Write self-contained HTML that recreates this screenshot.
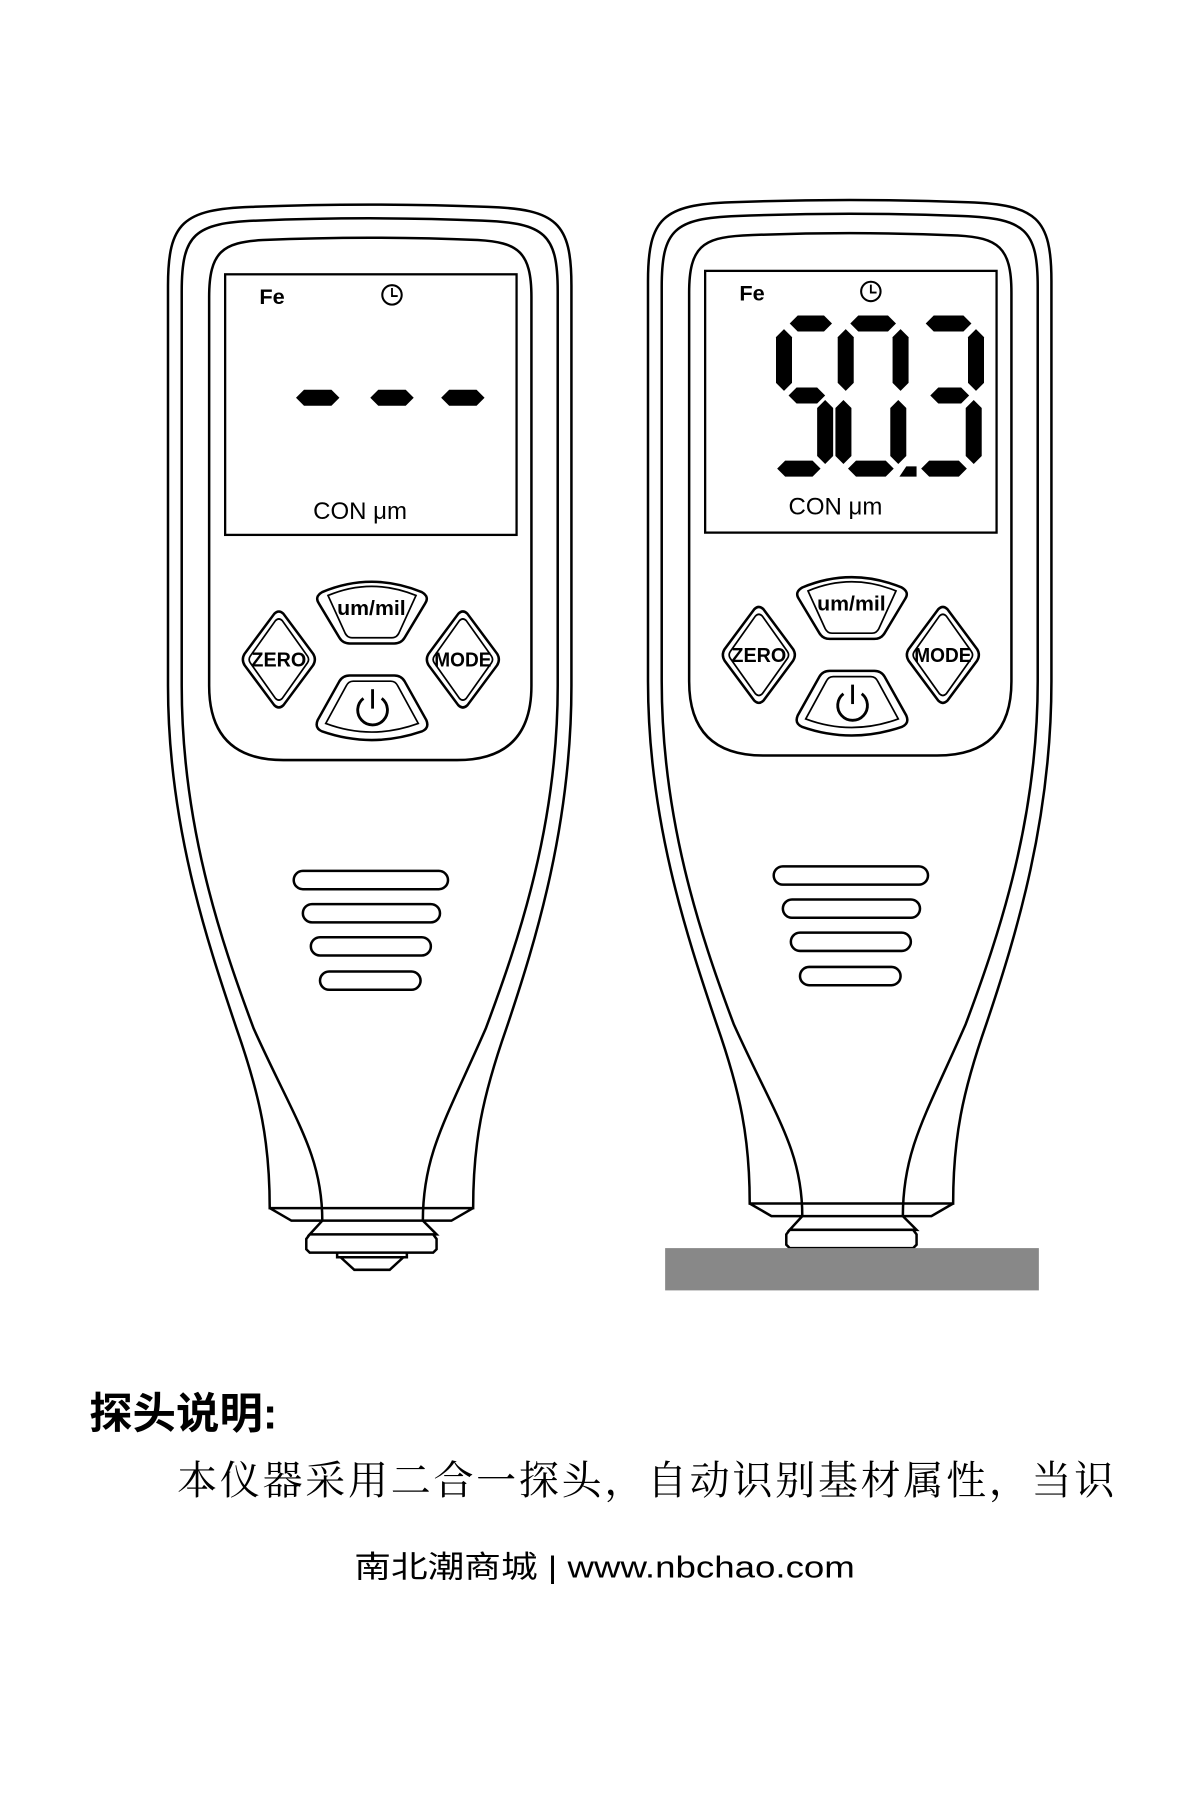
<!DOCTYPE html>
<html><head><meta charset="utf-8"><style>
html,body{margin:0;padding:0;background:#fff;}
svg{display:block;}
</style></head><body>
<svg width="1200" height="1799" viewBox="0 0 1050 1574" preserveAspectRatio="none" xmlns="http://www.w3.org/2000/svg">
<defs>
<g id="dev" fill="none" stroke="#000" stroke-width="2.2">
  <path d="M147 250 C147 195 160 183 220 181 Q323 177 427 181 C487 183 500 195 500 250 L500 600 C500 720 470 820 443 900 C422 960 414 1000 414 1057 L236 1057 C236 1000 228 960 207 900 C180 820 147 720 147 600 Z"/>
  <path d="M159 255 C159 205 170 195 225 193 Q323 189 422 193 C477 195 488 205 488 255 L488 600 C488 720 455 820 425 900 C390 980 370 1010 370 1068 M159 255 L159 600 C159 720 192 820 222 900 C258 980 282 1010 282 1068"/>
  <path d="M183 260 C183 220 195 212 230 210 Q323 206 418 210 C453 212 465 220 465 260 L465 600 Q465 665 400 665 L248 665 Q183 665 183 600 Z"/>
  <path d="M236 1057 L255 1068 L395 1068 L414 1057"/>
  <path d="M282 1068 L271 1080 L382 1080 L370 1068"/>
  <path d="M271 1080 L268 1084 L268 1093 L271 1096 L379 1096 L382 1093 L382 1084 L379 1080"/>
  <path d="M282 518 Q325 500 369 518 Q376 522 372 528 L354 558 Q351 563 345 563 L306 563 Q300 563 297 558 L279 528 Q275 522 282 518 Z"/>
  <path d="M287 521 Q325 505 364 521 L349 554 Q347 558 343 558 L308 558 Q304 558 302 554 Z" stroke-width="1.5"/>
  <path d="M306 591 L345 591 Q351 591 354 596 L373 630 Q376 637 369 640 Q325 655 282 640 Q275 637 278 630 L297 596 Q300 591 306 591 Z"/>
  <path d="M309 596 L342 596 Q346 596 348 600 L366 633 Q325 648 285 633 L303 600 Q305 596 309 596 Z" stroke-width="1.5"/>
  <path d="M240 537 Q244 533 248 537 L274 572 Q277 577 274 582 L248 617 Q244 621 240 617 L214 582 Q211 577 214 572 Z"/>
  <path d="M241 543 Q244 540 247 543 L269 574 Q271 577 269 580 L247 611 Q244 614 241 611 L219 580 Q217 577 219 574 Z" stroke-width="1.5"/>
  <path d="M401 537 Q405 533 409 537 L435 572 Q438 577 435 582 L409 617 Q405 621 401 617 L375 582 Q372 577 375 572 Z"/>
  <path d="M402 543 Q405 540 408 543 L430 574 Q432 577 430 580 L408 611 Q405 614 402 611 L380 580 Q378 577 380 574 Z" stroke-width="1.5"/>
  <path d="M318 611 A13 13 0 1 0 334 611" stroke-width="2.5"/>
  <line x1="326" y1="603" x2="326" y2="620" stroke-width="2.5"/>
  <rect x="257" y="762" width="135" height="16" rx="8"/>
  <rect x="265" y="791" width="120" height="16" rx="8"/>
  <rect x="272" y="820" width="105" height="16" rx="8"/>
  <rect x="280" y="850" width="88" height="16" rx="8"/>
</g>
<g id="lbl" font-family="Liberation Sans Narrow, Liberation Sans, sans-serif" font-weight="bold" font-size="18">
<text x="325" y="538" text-anchor="middle" textLength="60" lengthAdjust="spacingAndGlyphs">um/mil</text>
<text x="244" y="583" text-anchor="middle" textLength="48" lengthAdjust="spacingAndGlyphs">ZERO</text>
<text x="405" y="583" text-anchor="middle" textLength="50" lengthAdjust="spacingAndGlyphs">MODE</text>
</g>
</defs>
<g font-family="Liberation Sans, sans-serif" font-weight="bold">
<use href="#dev"/>
<use href="#lbl"/>
<path d="M295 1096 L295 1100 L356 1100 L356 1096 M298 1100 L310 1111 L341 1111 L353 1100" fill="none" stroke="#000" stroke-width="2.2"/>
<rect x="197" y="240" width="255" height="228" fill="none" stroke="#000" stroke-width="2"/>
<text x="227" y="266" font-size="19">Fe</text>
<circle cx="343" cy="258" r="8.5" fill="none" stroke="#000" stroke-width="1.8"/>
<path d="M343 252 L343 259 L348 259" fill="none" stroke="#000" stroke-width="1.6"/>
<g fill="#000">
<polygon points="259,348 266,341 290,341 297,348 290,355 266,355"/>
<polygon points="324,348 331,341 355,341 362,348 355,355 331,355"/>
<polygon points="386,348 393,341 417,341 424,348 417,355 393,355"/>
</g>
<text x="274" y="454" font-size="21" font-weight="normal">CON  μm</text>

<g transform="translate(420,-4)">
<use href="#dev"/>
<use href="#lbl"/>
</g>
<rect x="617" y="237" width="255" height="229" fill="none" stroke="#000" stroke-width="2"/>
<text x="647" y="263" font-size="19">Fe</text>
<circle cx="762" cy="255" r="8.5" fill="none" stroke="#000" stroke-width="1.8"/>
<path d="M762 249 L762 256 L767 256" fill="none" stroke="#000" stroke-width="1.6"/>
<g fill="#000">
  <!-- 5 -->
  <polygon points="691,283 698,276 721,276 728,283 721,290 698,290"/>
  <polygon points="686,288 693,295 693,335 686,342 679,335 679,295"/>
  <polygon points="690,346 697,339 715,339 722,346 715,353 697,353"/>
  <polygon points="722,350 729,357 729,399 722,406 715,399 715,357"/>
  <polygon points="680,410 687,403 711,403 718,410 711,417 687,417"/>
  <!-- 0 -->
  <polygon points="744,283 751,276 777,276 784,283 777,290 751,290"/>
  <polygon points="740,288 747,295 747,335 740,342 733,335 733,295"/>
  <polygon points="788,288 795,295 795,335 788,342 781,335 781,295"/>
  <polygon points="738,350 745,357 745,399 738,406 731,399 731,357"/>
  <polygon points="786,350 793,357 793,399 786,406 779,399 779,357"/>
  <polygon points="742,410 749,403 775,403 782,410 775,417 749,417"/>
  <!-- 3 -->
  <polygon points="810,283 817,276 843,276 850,283 843,290 817,290"/>
  <polygon points="854,288 861,295 861,335 854,342 847,335 847,295"/>
  <polygon points="814,346 821,339 841,339 848,346 841,353 821,353"/>
  <polygon points="852,350 859,357 859,399 852,406 845,399 845,357"/>
  <polygon points="806,410 813,403 839,403 846,410 839,417 813,417"/>
  <polygon points="787,417 793,408 802,408 802,417"/>
</g>
<text x="690" y="450" font-size="21" font-weight="normal">CON  μm</text>
</g>
<rect x="582" y="1092" width="327" height="37" fill="#888"/>
<text x="78" y="1250" font-family="Liberation Sans, 'Noto Sans CJK SC', sans-serif" font-weight="bold" font-size="38">探头说明:</text>
<text x="155" y="1307" font-family="Liberation Serif, 'Noto Serif CJK SC', serif" font-size="35" textLength="820" lengthAdjust="spacing">本仪器采用二合一探头，自动识别基材属性，当识</text>
<text x="310" y="1380" font-family="Liberation Sans, 'Noto Sans CJK SC', sans-serif" font-size="27" textLength="438" lengthAdjust="spacingAndGlyphs">南北潮商城 | www.nbchao.com</text>
</svg>
</body></html>
